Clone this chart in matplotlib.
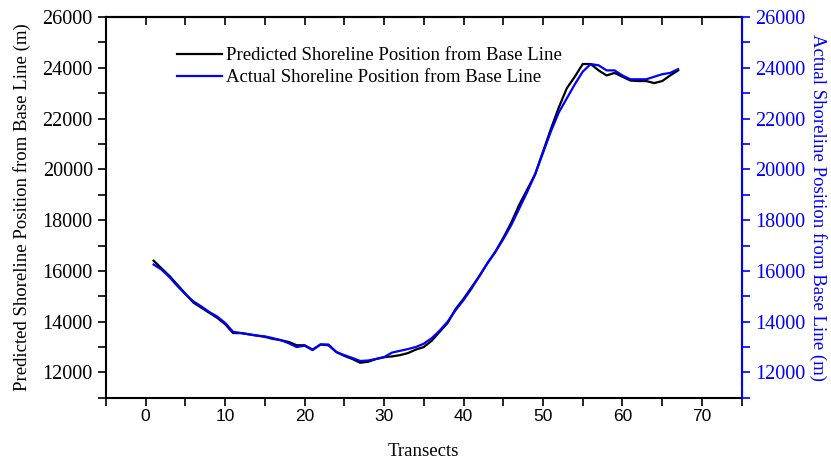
import matplotlib
matplotlib.use("Agg")
import matplotlib.pyplot as plt
from matplotlib.ticker import MultipleLocator

transects = list(range(1, 68))
predicted = [16400, 16100, 15800, 15450, 15100, 14750, 14550, 14350, 14150, 13900,
             13550, 13550, 13500, 13450, 13400, 13320, 13270, 13200, 13070, 13070,
             12900, 13100, 13070, 12800, 12650, 12530, 12380, 12420, 12530, 12600,
             12630, 12680, 12760, 12900, 13000, 13250, 13600, 13950, 14500, 14900,
             15350, 15800, 16300, 16750, 17300, 17900, 18600, 19200, 19800, 20700,
             21600, 22450, 23200, 23650, 24150, 24150, 23900, 23700, 23800, 23650,
             23500, 23480, 23480, 23400, 23480, 23700, 23900]
actual = [16250, 16050, 15750, 15400, 15080, 14800, 14600, 14380, 14200, 13950,
          13600, 13550, 13500, 13450, 13420, 13350, 13270, 13150, 13000, 13050,
          12880, 13100, 13100, 12800, 12680, 12570, 12450, 12470, 12530, 12600,
          12780, 12850, 12920, 13000, 13130, 13350, 13650, 14000, 14450, 14850,
          15300, 15800, 16300, 16750, 17250, 17800, 18450, 19100, 19800, 20650,
          21500, 22250, 22800, 23350, 23850, 24150, 24100, 23900, 23900, 23700,
          23550, 23550, 23550, 23650, 23750, 23800, 23950]
x_ticks = [0, 10, 20, 30, 40, 50, 60, 70]
y_ticks = [12000, 14000, 16000, 18000, 20000, 22000, 24000, 26000]

serif = "Liberation Serif"
sans = "Liberation Sans"
blue = "#0000ff"

fig = plt.figure(figsize=(8.31, 4.62), dpi=100)
ax = fig.add_axes([0.1275, 0.139, 0.765, 0.824])
ax2 = ax.twinx()

l1, = ax.plot(transects, predicted, color="black", lw=1.6,
              label="Predicted Shoreline Position from Base Line")
l2, = ax2.plot(transects, actual, color=blue, lw=1.6,
               label="Actual Shoreline Position from Base Line")

for a in (ax, ax2):
    a.set_xlim(-5, 75)
    a.set_ylim(11000, 26000)
    a.yaxis.set_minor_locator(MultipleLocator(1000))

ax.xaxis.set_minor_locator(MultipleLocator(5))
ax.tick_params(axis="x", which="both", direction="out", top=False, length=6, width=1.2)
ax.tick_params(axis="x", which="major", pad=2)
ax.tick_params(axis="y", which="both", direction="out", length=6, width=1.2)
ax.set_xticks(x_ticks)
ax.set_xticklabels([str(v) for v in x_ticks], fontfamily=sans, fontsize=12.5)
ax.set_yticks(y_ticks)
ax.set_yticklabels([str(v) for v in y_ticks], fontfamily=serif, fontsize=14.5)

top = ax.secondary_xaxis("top")
top.set_xticks(list(range(-5, 76, 5)))
top.tick_params(axis="x", direction="in", length=6, width=1.2, labeltop=False)
top.spines["top"].set_linewidth(1.5)

ax2.tick_params(axis="y", which="both", direction="out", length=6, width=1.2,
                colors=blue)
ax2.set_yticks(y_ticks)
ax2.set_yticklabels([str(v) for v in y_ticks], fontfamily=serif, fontsize=14.5, color=blue)
ax2.spines["right"].set_color(blue)
ax2.spines["right"].set_linewidth(1.5)
for s in ("left", "bottom", "top"):
    ax.spines[s].set_linewidth(1.5)
ax2.spines["left"].set_visible(False)
ax2.spines["top"].set_visible(False)
ax2.spines["bottom"].set_visible(False)

ax.set_xlabel("Transects", fontfamily=serif, fontsize=13.5, labelpad=14)
ax.set_ylabel("Predicted Shoreline Position from Base Line (m)", fontfamily=serif,
              fontsize=13.5, labelpad=8)
ax2.set_ylabel("Actual Shoreline Position from Base Line (m)", fontfamily=serif,
               fontsize=13.5, color=blue, rotation=270, labelpad=16)

leg = ax.legend(handles=[l1, l2], loc="upper left", bbox_to_anchor=(0.085, 0.965),
                frameon=False, prop={"family": serif, "size": 13.5},
                handlelength=2.4, handletextpad=0.2, labelspacing=0.25)

fig.savefig("out.png", dpi=100)
